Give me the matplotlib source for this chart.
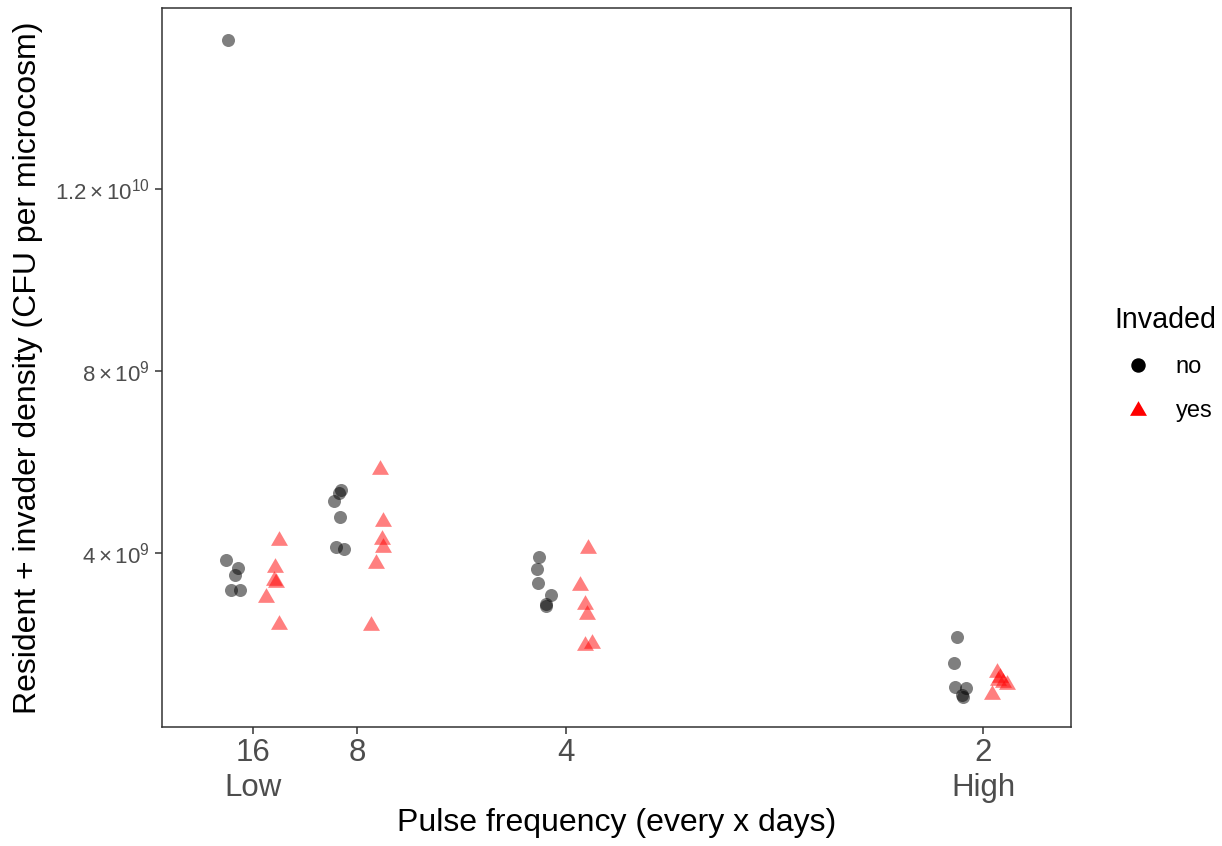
import numpy as np
import matplotlib
matplotlib.use("Agg")
import matplotlib.pyplot as plt
from matplotlib.lines import Line2D

plt.rcParams["font.family"] = ["Liberation Sans", "DejaVu Sans"]
plt.rcParams["mathtext.fontset"] = "custom"
plt.rcParams["mathtext.rm"] = "Liberation Sans"
plt.rcParams["mathtext.it"] = "Liberation Sans:italic"

# pulse interval (days) for each group, in plotting order
dias = [16, 8, 4, 2]

# densities (x 1e9 CFU) and horizontal jitter (in 1/day units), not invaded
no_dens = [
    [3.85, 3.67, 3.52, 3.19, 3.19, 15.27],
    [5.38, 5.32, 5.14, 4.79, 4.13, 4.09],
    [3.91, 3.65, 3.34, 3.08, 2.88, 2.84],
    [2.15, 1.58, 1.05, 1.03, 0.88, 0.835],
]
no_jit = [
    [-0.0162, -0.0090, -0.0108, -0.0132, -0.0078, -0.0150],
    [-0.0096, -0.0108, -0.0138, -0.0102, -0.0126, -0.0078],
    [-0.0162, -0.0174, -0.0168, -0.0090, -0.0120, -0.0120],
    [-0.0156, -0.0174, -0.0168, -0.0102, -0.0126, -0.0120],
]

# invaded
si_dens = [
    [4.33, 3.74, 3.45, 3.41, 3.08, 2.48],
    [5.89, 4.75, 4.35, 4.18, 3.82, 2.46],
    [4.15, 3.34, 2.92, 2.70, 2.02, 2.07],
    [1.43, 1.32, 1.25, 1.16, 0.945, 1.21],
]
si_jit = [
    [0.0156, 0.0132, 0.0126, 0.0138, 0.0078, 0.0156],
    [0.0138, 0.0156, 0.0150, 0.0156, 0.0114, 0.0084],
    [0.0132, 0.0084, 0.0114, 0.0126, 0.0114, 0.0156],
    [0.0084, 0.0102, 0.0090, 0.0144, 0.0054, 0.0120],
]

etiquetas_x = ["16\nLow", "8", "4", "2\nHigh"]
ticks_y = [4e9, 8e9, 1.2e10]
etiquetas_y = [r"$4\times10^{9}$", r"$8\times10^{9}$", r"$1.2\times10^{10}$"]

# equilateral triangle like ggplot shape 17
tri = [(0, 0.75), (-0.866, -0.75), (0.866, -0.75)]

fig = plt.figure(figsize=(12.22, 8.46), dpi=100)
ax = fig.add_axes([0.1326, 0.1407, 0.7438, 0.8498])

for d, dn, jn, ds, js in zip(dias, no_dens, no_jit, si_dens, si_jit):
    f = 1.0 / d
    ax.scatter(f + np.array(jn), np.array(dn) * 1e9, s=88, c="black",
               alpha=0.5, linewidths=0, marker="o")
    ax.scatter(f + np.array(js), np.array(ds) * 1e9, s=149, c="red",
               alpha=0.5, linewidths=0, marker=tri)

ax.set_xlim(0.008, 0.5527)
ax.set_ylim(0.176e9, 15.98e9)
ax.set_xticks([1.0 / d for d in dias])
ax.set_xticklabels(etiquetas_x, fontsize=22.5, color="#4D4D4D", linespacing=1.2)
ax.set_yticks(ticks_y)
ax.set_yticklabels(etiquetas_y, fontsize=16, color="#4D4D4D")
ax.tick_params(axis="both", length=5, width=1.1, color="#333333")
ax.tick_params(axis="x", pad=3)
ax.tick_params(axis="y", pad=4)
for sp in ax.spines.values():
    sp.set_color("#333333")
    sp.set_linewidth(1.1)

ax.set_xlabel("Pulse frequency (every x days)", fontsize=23, labelpad=4)
ax.set_ylabel("Resident + invader density (CFU per microcosm)", fontsize=23, labelpad=8)

handles = [
    Line2D([], [], marker="o", color="black", linestyle="none", markersize=9.4),
    Line2D([], [], marker=tri, color="red", markeredgewidth=0, linestyle="none", markersize=12.2),
]
leg = fig.legend(handles, ["no", "yes"], title="Invaded", loc="center left",
                 bbox_to_anchor=(1093 / 1222, 1 - 364 / 846), frameon=False,
                 fontsize=17, title_fontsize=20.6, handletextpad=0.6,
                 labelspacing=0.92, alignment="left")

fig.savefig("out.png", dpi=100)
